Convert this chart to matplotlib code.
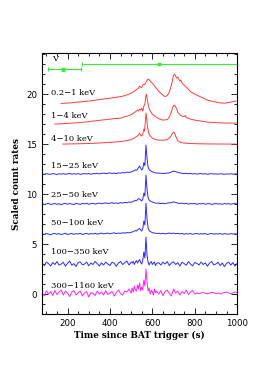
import numpy as np
import matplotlib.pyplot as plt
from matplotlib.ticker import MultipleLocator

# XRT light curves (already scaled and shifted)
t_soft = [170, 200, 250, 300, 350, 380, 400, 420, 450, 470, 490, 505, 515, 525, 535, 540, 545, 550,
          555, 560, 565, 570, 575, 580, 585, 590, 600, 610, 620, 630, 640, 650, 660, 670, 680, 690,
          695, 700, 705, 710, 715, 720, 725, 730, 735, 740, 750, 760, 770, 780, 800, 820, 840, 860,
          880, 900, 920, 940, 960, 980, 995]
y_soft = [19.07, 19.1, 19.2, 19.3, 19.45, 19.55, 19.6, 19.65, 19.75, 19.85, 20.0, 20.15, 20.3, 20.45,
          20.6, 20.8, 20.7, 20.65, 20.9, 21.0, 20.95, 21.2, 21.35, 21.5, 21.45, 21.3, 21.1, 20.85,
          20.55, 20.3, 20.1, 19.9, 19.75, 19.85, 20.2, 20.9, 21.4, 21.9, 22.0, 21.8, 21.6, 21.7,
          21.5, 21.3, 21.4, 21.1, 20.9, 20.7, 20.5, 20.25, 20.0, 19.8, 19.6, 19.4, 19.3, 19.2,
          19.12, 19.1, 19.15, 19.25, 19.3]

t_mid = [140, 180, 220, 260, 300, 340, 380, 420, 450, 470, 490, 505, 515, 525, 530, 535, 540, 545,
         550, 555, 560, 565, 568, 572, 576, 580, 585, 590, 600, 615, 630, 650, 670, 680, 690, 695,
         700, 705, 710, 715, 720, 730, 740, 750, 755, 760, 780, 800, 830, 860, 900, 950, 995]
y_mid = [17.0, 17.05, 17.1, 17.15, 17.25, 17.35, 17.45, 17.55, 17.6, 17.75, 17.85, 18.0, 18.15, 18.3,
         18.4, 18.3, 18.5, 18.4, 18.6, 18.3, 18.8, 19.0, 19.6, 20.0, 19.5, 19.0, 18.6, 18.3, 18.0,
         17.75, 17.55, 17.4, 17.45, 17.7, 18.2, 18.6, 18.85, 18.9, 18.7, 18.55, 18.2, 17.95, 17.8,
         17.75, 17.85, 17.65, 17.5, 17.4, 17.3, 17.2, 17.15, 17.1, 17.1]

t_hard = [178, 220, 260, 300, 340, 380, 420, 450, 480, 500, 515, 525, 535, 540, 545, 550, 555, 560,
          563, 567, 570, 574, 578, 583, 590, 600, 615, 630, 650, 670, 685, 695, 700, 705, 712, 720,
          735, 760, 800, 850, 900, 995]
y_hard = [15.0, 15.02, 15.04, 15.06, 15.1, 15.15, 15.2, 15.25, 15.35, 15.45, 15.6, 15.75, 15.9, 16.1,
          15.9, 15.8, 16.0, 16.5, 16.3, 17.2, 18.1, 17.5, 16.6, 16.1, 15.8, 15.6, 15.45, 15.4, 15.38,
          15.45, 15.7, 16.1, 16.2, 16.1, 15.7, 15.35, 15.15, 15.08, 15.04, 15.02, 15.01, 15.0]

xrt_labels = ['0.2\u22121 keV', '1\u22124 keV', '4\u221210 keV']

# BAT light curves: time grid, offsets and rates above each offset
t_bat = np.concatenate([np.arange(80, 501, 10), np.arange(505, 621, 5), np.arange(630, 1001, 10)])

bat_offsets = [12, 9, 6, 3, 0]
bat_labels = ['15\u221225 keV', '25\u221250 keV', '50\u2212100 keV', '100\u2212350 keV', '300\u22121160 keV']

r_15_25 = [0.02, -0.03, 0.04, 0.0, -0.02, 0.05, 0.01, -0.04, 0.03, 0.0,
           0.04, -0.02, 0.02, 0.06, -0.01, 0.03, 0.0, 0.05, -0.03, 0.02,
           0.04, 0.01, 0.06, -0.02, 0.05, 0.03, 0.08, 0.02, 0.06, 0.1,
           0.04, 0.08, 0.12, 0.06, 0.1, 0.05, 0.12, 0.09, 0.15, 0.12,
           0.2, 0.16, 0.22,
           0.25, 0.3, 0.35, 0.42, 0.38, 0.5, 0.65, 0.8, 0.6, 0.4, 0.55, 1.15,
           0.85, 2.9, 1.6, 0.7, 0.45, 0.35, 0.28, 0.22, 0.2, 0.15, 0.12, 0.1,
           0.1, 0.08, 0.06, 0.08, 0.1, 0.12, 0.2, 0.3, 0.25, 0.18,
           0.12, 0.08, 0.05, 0.07, 0.03, 0.06, 0.02, 0.04, 0.0, 0.03,
           0.05, 0.01, 0.03, -0.02, 0.02, 0.04, 0.0, 0.02, -0.01, 0.03,
           0.01, -0.02, 0.02, 0.0, 0.03, -0.01, 0.02, 0.01]
r_25_50 = [0.05, -0.06, 0.02, 0.08, -0.04, 0.0, 0.06, -0.03, 0.04, -0.07,
           0.03, 0.07, -0.02, 0.05, 0.0, -0.05, 0.08, 0.02, -0.03, 0.06,
           0.01, 0.09, -0.02, 0.04, 0.07, 0.0, 0.05, 0.1, 0.03, 0.08,
           0.12, 0.05, 0.09, 0.14, 0.07, 0.11, 0.06, 0.15, 0.1, 0.17,
           0.13, 0.2, 0.18,
           0.22, 0.28, 0.3, 0.38, 0.33, 0.45, 0.55, 0.5, 0.42, 0.3, 0.5, 1.1,
           0.8, 2.9, 1.5, 0.65, 0.4, 0.3, 0.25, 0.2, 0.18, 0.12, 0.1, 0.08,
           0.1, 0.05, 0.08, 0.04, 0.1, 0.12, 0.15, 0.22, 0.16, 0.1,
           0.06, 0.09, 0.03, 0.07, 0.0, 0.05, 0.02, 0.06, -0.03, 0.04,
           0.01, 0.06, -0.02, 0.03, 0.05, -0.04, 0.02, 0.06, 0.0, 0.03,
           -0.03, 0.05, 0.01, 0.04, -0.02, 0.03, 0.06, 0.0]
r_50_100 = [0.04, -0.05, 0.07, 0.0, -0.08, 0.03, 0.06, -0.02, 0.05, -0.06,
            0.02, 0.08, -0.04, 0.01, 0.06, -0.03, 0.04, 0.0, 0.07, -0.05,
            0.03, 0.06, -0.02, 0.05, 0.01, 0.08, -0.01, 0.04, 0.09, 0.02,
            0.06, 0.1, 0.03, 0.08, 0.12, 0.05, 0.1, 0.07, 0.13, 0.09,
            0.15, 0.12, 0.18,
            0.2, 0.25, 0.3, 0.35, 0.3, 0.42, 0.5, 0.55, 0.4, 0.3, 0.55, 1.3,
            0.9, 3.1, 1.5, 0.6, 0.35, 0.25, 0.2, 0.15, 0.12, 0.1, 0.08, 0.06,
            0.08, 0.03, 0.07, 0.02, 0.06, 0.1, 0.05, 0.09, 0.04, 0.07,
            0.02, 0.06, -0.02, 0.04, 0.0, 0.05, -0.03, 0.03, 0.06, -0.01,
            0.04, 0.0, 0.05, -0.04, 0.02, 0.06, -0.02, 0.03, 0.0, 0.05,
            -0.03, 0.04, 0.01, -0.02, 0.05, 0.0, 0.03, -0.01]
r_100_350 = [0.1, -0.15, 0.2, 0.05, -0.2, 0.15, -0.05, 0.25, -0.1, 0.0,
             0.18, -0.22, 0.08, 0.3, -0.12, 0.05, -0.25, 0.15, 0.22, -0.08,
             0.0, 0.2, -0.18, 0.1, -0.05, 0.25, 0.05, -0.2, 0.12, -0.1,
             0.2, 0.0, -0.15, 0.18, 0.08, -0.22, 0.1, 0.25, -0.05, 0.15,
             0.3, -0.1, 0.2,
             0.1, 0.28, -0.05, 0.2, 0.35, 0.1, 0.3, 0.45, 0.15, 0.0, 0.4, 1.2,
             0.6, 2.7, 0.9, 0.2, -0.1, 0.15, 0.25, -0.05, 0.1, 0.2, -0.15, 0.05,
             0.15, -0.1, 0.2, 0.0, 0.25, -0.15, 0.1, 0.22, -0.05, 0.12,
             -0.2, 0.18, 0.05, -0.12, 0.25, 0.0, -0.18, 0.15, 0.08, -0.1,
             0.2, -0.05, 0.12, -0.22, 0.1, 0.25, -0.08, 0.0, 0.18, -0.15,
             0.1, -0.25, 0.05, 0.2, -0.1, 0.15, -0.2, 0.08]
r_300_1160 = [0.15, -0.2, 0.3, 0.0, 0.25, -0.15, 0.35, -0.05, 0.2, 0.4,
              -0.1, 0.3, 0.1, -0.25, 0.2, 0.35, -0.1, 0.15, 0.3, -0.2,
              0.1, 0.25, -0.3, 0.15, 0.05, -0.15, 0.3, 0.0, 0.2, -0.1,
              0.35, -0.05, 0.1, 0.25, -0.2, 0.15, 0.4, 0.05, -0.1, 0.3,
              0.2, 0.5, 0.1,
              0.6, 0.2, 0.8, 0.4, 0.3, 0.9, 0.5, 1.1, 0.3, 0.7, 0.4, 1.4,
              0.8, 2.5, 1.2, 0.3, 0.6, 0.0, 0.4, 0.2, -0.1, 0.5, 0.1, 0.3,
              0.0, 0.35, -0.15, 0.25, 0.4, 0.05, -0.2, 0.5, 0.1, 0.3,
              -0.1, 0.25, 0.05, 0.4, -0.05, 0.2, 0.35,
              0.0, 0.1, 0.05, 0.1, 0.15, 0.08, 0.02, 0.1, 0.18, 0.12,
              0.05, 0.1, 0.0, 0.08, 0.15, 0.2, 0.1, 0.05, 0.12, 0.2, 0.15]
bat_rates = [r_15_25, r_25_50, r_50_100, r_100_350, r_300_1160]

# optical (V band) points
v_t = [179, 631]
v_y = [22.5, 23.0]
v_xlo = [72, 363]
v_xhi = [84, 369]
v_yerr = [0.15, 0.1]

red = '#ff3b3b'
blue = '#2a2aff'
magenta = '#ff22ff'
green = '#33ee33'

fig = plt.figure(figsize=(2.77, 3.69), dpi=100)
ax = fig.add_axes([0.152, 0.149, 0.704, 0.707])

for t, y in [(t_soft, y_soft), (t_mid, y_mid), (t_hard, y_hard)]:
    ax.plot(t, y, color=red, lw=0.7)

for i, (off, r) in enumerate(zip(bat_offsets, bat_rates)):
    c = magenta if i == 4 else blue
    ax.plot(t_bat, off + np.array(r), color=c, lw=0.7)

ax.errorbar(v_t, v_y, xerr=[v_xlo, v_xhi], yerr=v_yerr, fmt='s', ms=1.5,
            color=green, lw=0.8, capsize=1.2, capthick=0.8)

fs = 6.0
serif = 'DejaVu Serif'
ax.text(127, 23.1, 'V', fontsize=fs, va='bottom', family=serif)
xrt_ylab = [20.1, 17.8, 15.5]
for lab, yy in zip(xrt_labels, xrt_ylab):
    ax.text(121, yy, lab, fontsize=fs, va='center', family=serif)
bat_ylab = [12.8, 9.9, 7.1, 4.2, 0.8]
for lab, yy in zip(bat_labels, bat_ylab):
    ax.text(121, yy, lab, fontsize=fs, va='center', family=serif)

ax.set_xlim(80, 1000)
ax.set_ylim(-2, 24.1)
ax.xaxis.set_major_locator(MultipleLocator(200))
ax.xaxis.set_minor_locator(MultipleLocator(50))
ax.yaxis.set_major_locator(MultipleLocator(5))
ax.yaxis.set_minor_locator(MultipleLocator(1))
ax.tick_params(which='both', direction='in', top=True, right=True, labelsize=6.2, width=0.6)
ax.tick_params(which='major', length=4)
ax.tick_params(which='minor', length=2)
for s in ax.spines.values():
    s.set_linewidth(0.8)
ax.set_xlabel('Time since BAT trigger (s)', fontsize=6.3, fontweight='bold', family=serif, labelpad=2)
ax.set_ylabel('Scaled count rates', fontsize=6.3, fontweight='bold', family=serif, labelpad=4)

fig.savefig('out.png', dpi=100)
